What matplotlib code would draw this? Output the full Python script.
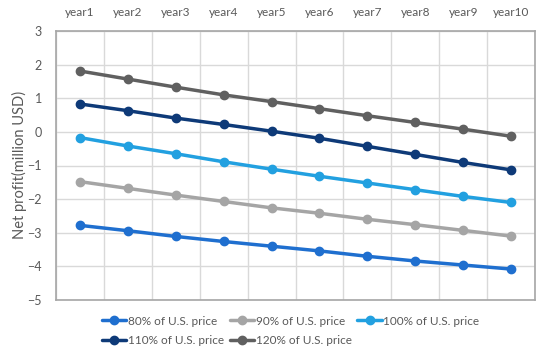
import matplotlib
matplotlib.use("Agg")
import matplotlib.pyplot as plt
import numpy as np

years = ["year1", "year2", "year3", "year4", "year5", "year6", "year7", "year8", "year9", "year10"]
s80 = [-2.78, -2.94, -3.11, -3.26, -3.40, -3.54, -3.70, -3.84, -3.96, -4.08]
s90 = [-1.48, -1.68, -1.88, -2.07, -2.26, -2.42, -2.60, -2.76, -2.93, -3.10]
s100 = [-0.17, -0.42, -0.65, -0.89, -1.11, -1.32, -1.52, -1.72, -1.92, -2.10]
s110 = [0.83, 0.63, 0.41, 0.22, 0.02, -0.19, -0.43, -0.67, -0.91, -1.13]
s120 = [1.81, 1.57, 1.33, 1.10, 0.90, 0.69, 0.48, 0.28, 0.08, -0.13]
labels = ["80% of U.S. price", "90% of U.S. price", "100% of U.S. price",
          "110% of U.S. price", "120% of U.S. price"]
colors = ["#1F6FCF", "#A5A5A5", "#22A0E0", "#0E3A78", "#606060"]

plt.rcParams['font.family'] = ['Lato', 'DejaVu Sans']
fig = plt.figure(figsize=(5.5, 3.57), dpi=100)
ax = fig.add_axes([56/550, 1-300/357, (535-56)/550, (300-31)/357])

x = np.arange(1, len(years) + 1)
handles = []
for vals, lab, c in zip([s80, s90, s100, s110, s120], labels, colors):
    h, = ax.plot(x, vals, color=c, lw=2.5, marker='o', ms=6, label=lab, solid_capstyle='round')
    handles.append(h)

ax.set_xlim(0.5, len(years) + 0.5)
ax.set_ylim(-5, 3)
ax.set_yticks(np.arange(-5, 4, 1))
ax.set_xticks(np.arange(0.5, len(years) + 1, 1), minor=False)
ax.set_xticklabels([])
ax.set_xticks(x, minor=True)
ax.set_xticklabels(years, minor=True)
ax.xaxis.tick_top()
ax.tick_params(axis='x', which='both', length=0, pad=9, labelsize=8.5, labelcolor='#595959')
ax.tick_params(axis='y', length=0, pad=10, labelsize=9, labelcolor='#595959')
ax.grid(True, which='major', color='#D9D9D9', lw=1)
ax.set_axisbelow(True)
for sp in ax.spines.values():
    sp.set_color('#A6A6A6')
    sp.set_linewidth(1.2)
fig.text(19/550, 1-165/357, "Net profit(million USD)", rotation=90, ha='center', va='center',
         color='#595959', fontsize=10.5)

order = [0, 3, 1, 4, 2]
leg = fig.legend([handles[i] for i in order], [labels[i] for i in order],
                 loc='upper left', bbox_to_anchor=(98/550, 1-312/357), ncol=3,
                 frameon=False, fontsize=8.5, handlelength=2.1, handletextpad=0.1,
                 columnspacing=0.5, labelspacing=0.75, borderaxespad=0, borderpad=0.3)
for t in leg.get_texts():
    t.set_color('#595959')

fig.savefig("out.png", dpi=100)
